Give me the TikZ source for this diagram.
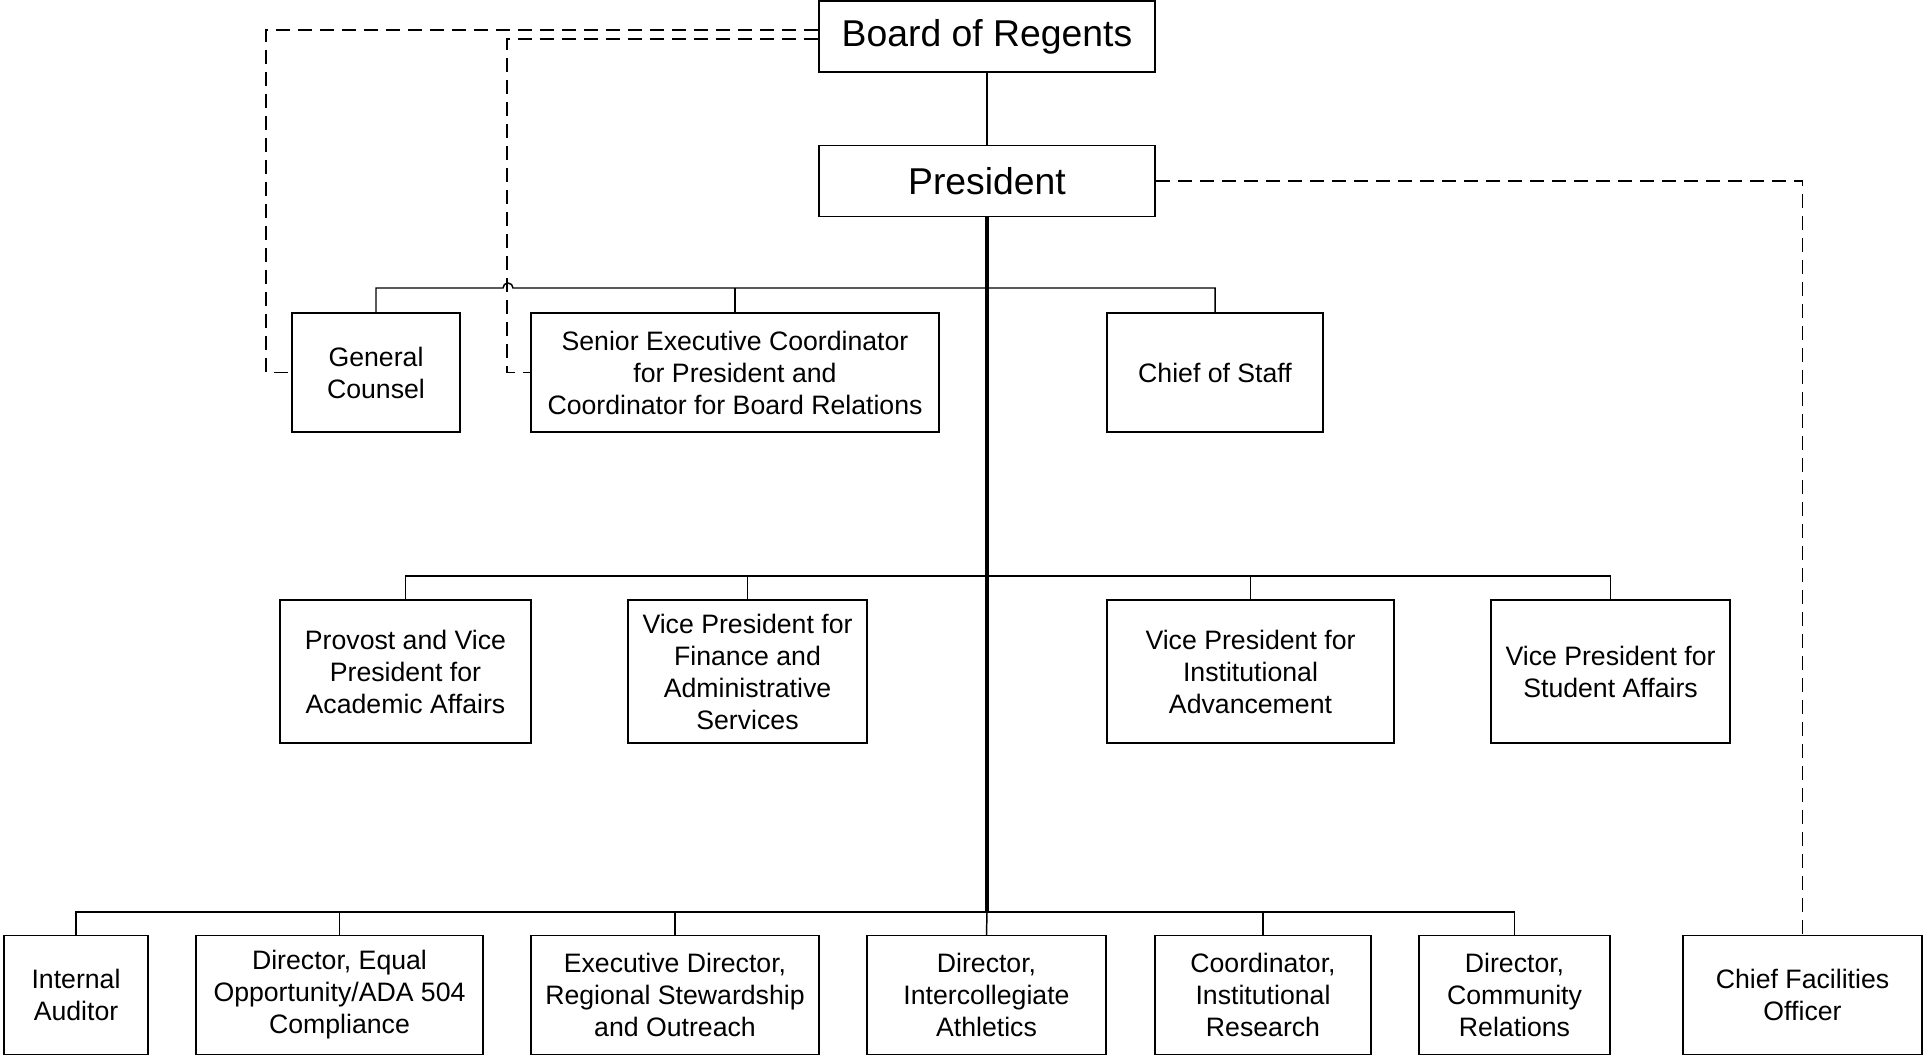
\documentclass[tikz,border=0pt]{standalone}
\usepackage{fontspec}
\setmainfont{Liberation Sans}

\begin{document}
\begin{tikzpicture}[
  x=0.75pt, y=-0.75pt,
  box/.style={draw, line width=1.1pt, align=center, inner sep=0pt, font=\fontsize{20}{24}\selectfont},
  top_box/.style={box, minimum width=252pt, minimum height=53.25pt, font=\fontsize{28}{32}\selectfont},
  link/.style={line width=1.1pt},
  trunk/.style={line width=2.4pt},
  dotted_link/.style={line width=1.4pt, dash pattern=on 10.5pt off 6pt},
]
\useasboundingbox (0,0) rectangle (1923,1056);
% top of the chart
\node (board) [top_box] at (987,36.5) {Board of Regents};
\node (pres) [top_box] at (987,181) {President};
% first row
\node (gc)  [box, minimum width=126pt, minimum height=89.25pt] at (376,372.5) {General\\Counsel};
\node (sec) [box, minimum width=306pt, minimum height=89.25pt] at (735,372.5) {Senior Executive Coordinator\\for President and\\Coordinator for Board Relations};
\node (cos) [box, minimum width=162pt, minimum height=89.25pt] at (1215,372.5) {Chief of Staff};
% vice presidents
\node (prov) [box, minimum width=188.25pt, minimum height=107.25pt] at (405.5,671.5) {Provost and Vice\\President for\\Academic Affairs};
\node (vpfa) [box, minimum width=179.25pt, minimum height=107.25pt] at (747.5,671.5) {Vice President for\\Finance and\\Administrative\\Services};
\node (vpia) [box, minimum width=215.25pt, minimum height=107.25pt] at (1250.5,671.5) {Vice President for\\Institutional\\Advancement};
\node (vpsa) [box, minimum width=179.25pt, minimum height=107.25pt] at (1610.5,671.5) {Vice President for\\Student Affairs};
% bottom row
\node (ia)  [box, minimum width=108pt, minimum height=89.25pt] at (76,995) {Internal\\Auditor};
\node (eo)  [box, minimum width=215.25pt, minimum height=89.25pt] at (339.5,995) {Director, Equal\\Opportunity/ADA 504\\Compliance};
\node (rso) [box, minimum width=216pt, minimum height=89.25pt] at (675,995) {Executive Director,\\Regional Stewardship\\and Outreach};
\node (ath) [box, minimum width=179.25pt, minimum height=89.25pt] at (986.5,995) {Director,\\Intercollegiate\\Athletics};
\node (ir)  [box, minimum width=162pt, minimum height=89.25pt] at (1263,995) {Coordinator,\\Institutional\\Research};
\node (cr)  [box, minimum width=143.25pt, minimum height=89.25pt] at (1514.5,995) {Director,\\Community\\Relations};
\node (cfo) [box, minimum width=179.25pt, minimum height=89.25pt] at (1802.5,995) {Chief Facilities\\Officer};

\coordinate (j1) at (987,288);
\coordinate (j2) at (987,576);
\coordinate (j3) at (987,912);
\coordinate (hop_l) at (503,288);
\coordinate (hop_r) at (513,288);

\draw[link] (board) -- (pres);
\draw[trunk] (pres.south) -- (j3);
% buses
\draw[link] (gc.north) |- (hop_l) arc[start angle=180, end angle=360, radius=5] -| (cos.north);
\draw[link] (sec.north) -- (sec.north |- j1);
\draw[link] (prov.north) |- (j2) -| (vpsa.north);
\draw[link] (vpfa.north) -- (vpfa.north |- j2);
\draw[link] (vpia.north) -- (vpia.north |- j2);
\draw[link] (ia.north) |- (j3) -| (cr.north);
\draw[link] (eo.north) -- (eo.north |- j3);
\draw[link] (rso.north) -- (rso.north |- j3);
\draw[link] (ath.north) -- (j3);
\draw[link] (ir.north) -- (ir.north |- j3);
% dashed reporting lines
\draw[dotted_link] ([yshift=4.9pt]board.west) -| ([xshift=-18.75pt]gc.west) -- (gc.west);
\draw[dotted_link] ([yshift=-1.9pt]board.west) -| ([xshift=-17.25pt]sec.west) -- (sec.west);
\draw[dotted_link] (pres.east) -| (cfo.north);
\end{tikzpicture}
\end{document}
